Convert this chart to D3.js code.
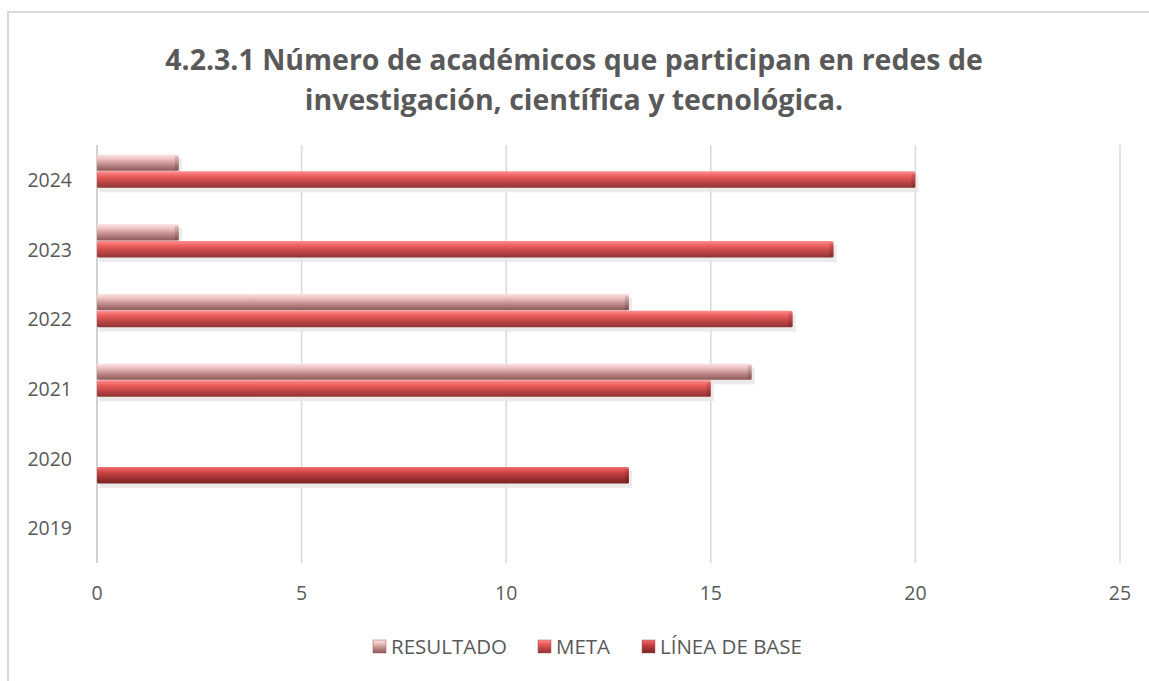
<!DOCTYPE html>
<html>
<head>
<meta charset="utf-8">
<script src="https://cdn.jsdelivr.net/npm/d3@7"></script>
<style>
  body { margin: 0; background: #fff; }
  svg text { font-family: "Open Sans", sans-serif; fill: #595959; }
</style>
</head>
<body>
<div id="chart"></div>
<script>
// Width and height
var w = 1149;
var h = 681;

// data
var years = ["2019", "2020", "2021", "2022", "2023", "2024"];
var series = ["RESULTADO", "META", "LÍNEA DE BASE"];
var resultado = [0, 0, 16, 13, 2, 2];
var meta = [0, 0, 15, 17, 18, 20];
var lineaBase = [0, 13, 0, 0, 0, 0];
var xTicks = [0, 5, 10, 15, 20, 25];
var titleLines = ["4.2.3.1 Número de académicos que participan en redes de",
                  "investigación, científica y tecnológica."];

var values = [resultado, meta, lineaBase];

var margin = {left: 97, right: 29, top: 145, bottom: 118};

var svg = d3.select("#chart")
  .append("svg")
  .attr("width", w)
  .attr("height", h);

// gradients for the bevelled bars
var defs = svg.append("defs");
var grads = [
  ["g0", ["#fde6e6", "#ebbdbd", "#c28c8c", "#8d5858"]],
  ["g1", ["#ff8e8e", "#ec5e5e", "#c44848", "#8e3434"]],
  ["g2", ["#f07070", "#d44848", "#a83434", "#7a2424"]]
];
grads.forEach(function (g) {
  var lg = defs.append("linearGradient")
    .attr("id", g[0])
    .attr("x1", 0).attr("y1", 0).attr("x2", 0).attr("y2", 1);
  g[1].forEach(function (c, i) {
    lg.append("stop")
      .attr("offset", [0, 0.3, 0.6, 1][i])
      .attr("stop-color", c);
  });
});

// outer border
svg.append("rect")
  .attr("x", 8).attr("y", 12)
  .attr("width", 1170).attr("height", 700)
  .attr("fill", "none")
  .attr("stroke", "#d9d9d9")
  .attr("stroke-width", 2);

// title
svg.append("text")
  .attr("x", 574)
  .attr("text-anchor", "middle")
  .style("font-size", "28.5px")
  .style("font-weight", "bold")
  .selectAll("tspan")
  .data(titleLines)
  .enter()
  .append("tspan")
  .attr("x", 574)
  .attr("y", function (d, i) { return 70 + i * 40; })
  .text(function (d) { return d; });

var x = d3.scaleLinear()
  .domain([0, 25])
  .range([margin.left, w - margin.right]);

var y = d3.scaleBand()
  .domain(years.slice().reverse())
  .range([margin.top, h - margin.bottom])
  .paddingInner(0.27)
  .paddingOuter(0.135);

var ySub = d3.scaleBand()
  .domain(series)
  .range([0, y.bandwidth()]);

// gridlines
svg.append("g")
  .selectAll("line")
  .data(xTicks.slice(1))
  .enter()
  .append("line")
  .attr("x1", function (d) { return x(d); })
  .attr("x2", function (d) { return x(d); })
  .attr("y1", margin.top)
  .attr("y2", h - margin.bottom)
  .attr("stroke", "#d9d9d9")
  .attr("stroke-width", 1.5);

// category axis line
svg.append("line")
  .attr("x1", x(0)).attr("x2", x(0))
  .attr("y1", margin.top).attr("y2", h - margin.bottom)
  .attr("stroke", "#d0d0d0")
  .attr("stroke-width", 2);

// x tick labels
svg.append("g")
  .selectAll("text")
  .data(xTicks)
  .enter()
  .append("text")
  .attr("x", function (d) { return x(d); })
  .attr("y", 600)
  .attr("text-anchor", "middle")
  .style("font-size", "19.5px")
  .text(function (d) { return d; });

// y labels
svg.append("g")
  .selectAll("text")
  .data(years)
  .enter()
  .append("text")
  .attr("x", 72)
  .attr("y", function (d) { return y(d) + y.bandwidth() / 2 + 7; })
  .attr("text-anchor", "end")
  .style("font-size", "19.5px")
  .text(function (d) { return d; });

// bars
var groups = svg.append("g")
  .selectAll("g")
  .data(years)
  .enter()
  .append("g")
  .attr("transform", function (d) { return "translate(0," + y(d) + ")"; });

var bars = groups.selectAll("g.bar")
  .data(function (d, i) {
    return series.map(function (s, k) { return {s: s, k: k, v: values[k][i]}; });
  })
  .enter()
  .append("g")
  .attr("class", "bar");

// shadow
bars.append("rect")
  .attr("x", x(0) + 2)
  .attr("y", function (d) { return ySub(d.s) + 4; })
  .attr("width", function (d) { return Math.max(0, x(d.v) - x(0) + 1); })
  .attr("height", ySub.bandwidth())
  .attr("fill", "#e6e6e6")
  .attr("opacity", function (d) { return d.v > 0 ? 0.8 : 0; });

bars.append("rect")
  .attr("x", x(0))
  .attr("y", function (d) { return ySub(d.s); })
  .attr("width", function (d) { return x(d.v) - x(0); })
  .attr("height", ySub.bandwidth() - 0.5)
  .attr("rx", 1.5)
  .attr("fill", function (d) { return "url(#g" + d.k + ")"; });

// darker bevel at the bar end
bars.append("rect")
  .attr("x", function (d) { return x(d.v) - 4; })
  .attr("y", function (d) { return ySub(d.s) + 2; })
  .attr("width", function (d) { return d.v > 0 ? 4 : 0; })
  .attr("height", ySub.bandwidth() - 3)
  .attr("fill", "#000")
  .attr("opacity", 0.12);

// legend
var legendX = [373, 538, 642];
var legend = svg.append("g")
  .selectAll("g")
  .data(series)
  .enter()
  .append("g")
  .attr("transform", function (d, i) { return "translate(" + legendX[i] + ",0)"; });

legend.append("rect")
  .attr("x", 0)
  .attr("y", 640)
  .attr("width", 13)
  .attr("height", 13)
  .attr("fill", function (d, i) { return "url(#g" + i + ")"; })
  .attr("stroke", "#9a5a5a")
  .attr("stroke-width", 0.5);

legend.append("text")
  .attr("x", 18)
  .attr("y", 654)
  .style("font-size", "20.5px")
  .text(function (d) { return d; });
</script>
</body>
</html>
